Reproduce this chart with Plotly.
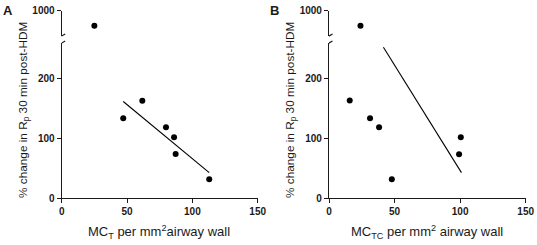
import plotly.graph_objects as go

# ---- data ----
resp_change = [133.8, 163, 118.6, 101.7, 74, 31.3]   # % change in Rp (lower segment)
outlier_change = [760]                              # point above the axis break

mct = [47.1, 61.7, 79.8, 86, 87.2, 112.9]
mct_outlier = [25]
fitA_x = [47.1, 112.9]
fitA_y = [161.8, 42.6]

mctc = [15.8, 100.5, 31.3, 38.2, 99.2, 47.9]
mctc_resp = [163.5, 101.7, 133.8, 118.6, 73.5, 31.3]
mctc_outlier = [24]
fitB_x = [41.5, 101]
fitB_y = [253, 42.6]

x_ticks = [0, 50, 100, 150]
y_low_ticks = [0, 100, 200]
y_up_ticks = [1000]

W, H = 537, 245
FONT = "Liberation Sans"
AX = "#1a1a1a"

def px(x):
    return x / W

def py(y):
    return 1 - y / H

fig = go.Figure()

mk = dict(color="black", size=6)
# Panel A
fig.add_trace(go.Scatter(x=mct, y=resp_change, mode="markers", marker=mk, xaxis="x", yaxis="y"))
fig.add_trace(go.Scatter(x=fitA_x, y=fitA_y, mode="lines", line=dict(color="black", width=1.1), xaxis="x", yaxis="y"))
fig.add_trace(go.Scatter(x=mct_outlier, y=outlier_change, mode="markers", marker=mk, xaxis="x", yaxis="y2"))
# Panel B
fig.add_trace(go.Scatter(x=mctc, y=mctc_resp, mode="markers", marker=mk, xaxis="x2", yaxis="y3"))
fig.add_trace(go.Scatter(x=fitB_x, y=fitB_y, mode="lines", line=dict(color="black", width=1.1), xaxis="x2", yaxis="y3"))
fig.add_trace(go.Scatter(x=mctc_outlier, y=outlier_change, mode="markers", marker=mk, xaxis="x2", yaxis="y4"))

tickfont = dict(family=FONT, size=10, color=AX, weight="bold")
common = dict(showline=True, linecolor=AX, linewidth=1.2, ticks="outside", ticklen=4,
              tickwidth=1.2, tickcolor=AX, showgrid=False, zeroline=False,
              tickfont=tickfont, fixedrange=True, automargin=False)

low_dom = [py(198), py(43)]
up_dom = [py(36), py(10.5)]

fig.update_layout(
    width=W, height=H, margin=dict(l=0, r=0, t=0, b=0),
    paper_bgcolor="white", plot_bgcolor="white", showlegend=False,
    xaxis=dict(domain=[px(61.7), px(257.7)], range=[0, 150], tickvals=x_ticks,
               anchor="y", **common),
    yaxis=dict(domain=low_dom, range=[0, 260], tickvals=y_low_ticks, anchor="x", **common),
    yaxis2=dict(domain=up_dom, range=[600, 1000], tickvals=y_up_ticks, anchor="x", **common),
    xaxis2=dict(domain=[px(329), px(525.7)], range=[0, 150], tickvals=x_ticks,
                anchor="y3", **common),
    yaxis3=dict(domain=low_dom, range=[0, 260], tickvals=y_low_ticks, anchor="x2", **common),
    yaxis4=dict(domain=up_dom, range=[600, 1000], tickvals=y_up_ticks, anchor="x2", **common),
)

# axis break slashes
shapes = []
for xr, ylo, yup in [("x", "y", "y2"), ("x2", "y3", "y4")]:
    for yref, anchor in [(ylo + " domain", 1), (yup + " domain", 0)]:
        shapes.append(dict(type="line", xref=xr, yref=yref, xsizemode="pixel", ysizemode="pixel",
                           xanchor=0, yanchor=anchor, x0=-3.5, x1=3.5, y0=-2, y1=2,
                           line=dict(color=AX, width=1.2)))
fig.update_layout(shapes=shapes)

ytitle = "% change in R<sub>p</sub> 30 min post-HDM"
ann = [
    dict(text="<b>A</b>", x=px(8), y=py(10), font=dict(size=13)),
    dict(text="<b>B</b>", x=px(274), y=py(10), font=dict(size=13)),
    dict(text=ytitle, x=px(23), y=py(110), textangle=-90, font=dict(size=11.8)),
    dict(text=ytitle, x=px(290), y=py(110), textangle=-90, font=dict(size=11.8)),
    dict(text="MC<sub>T</sub> per mm<sup>2</sup>airway wall", x=px(159), y=py(232), font=dict(size=13)),
    dict(text="MC<sub>TC</sub> per mm<sup>2</sup> airway wall", x=px(427), y=py(232), font=dict(size=13)),
]
for a in ann:
    a.update(xref="paper", yref="paper", showarrow=False, xanchor="center", yanchor="middle")
    a["font"].update(family=FONT, color=AX)
fig.update_layout(annotations=ann)

fig.write_html("out.html", config={"displayModeBar": False},
               post_script="document.body.style.margin='0';")
